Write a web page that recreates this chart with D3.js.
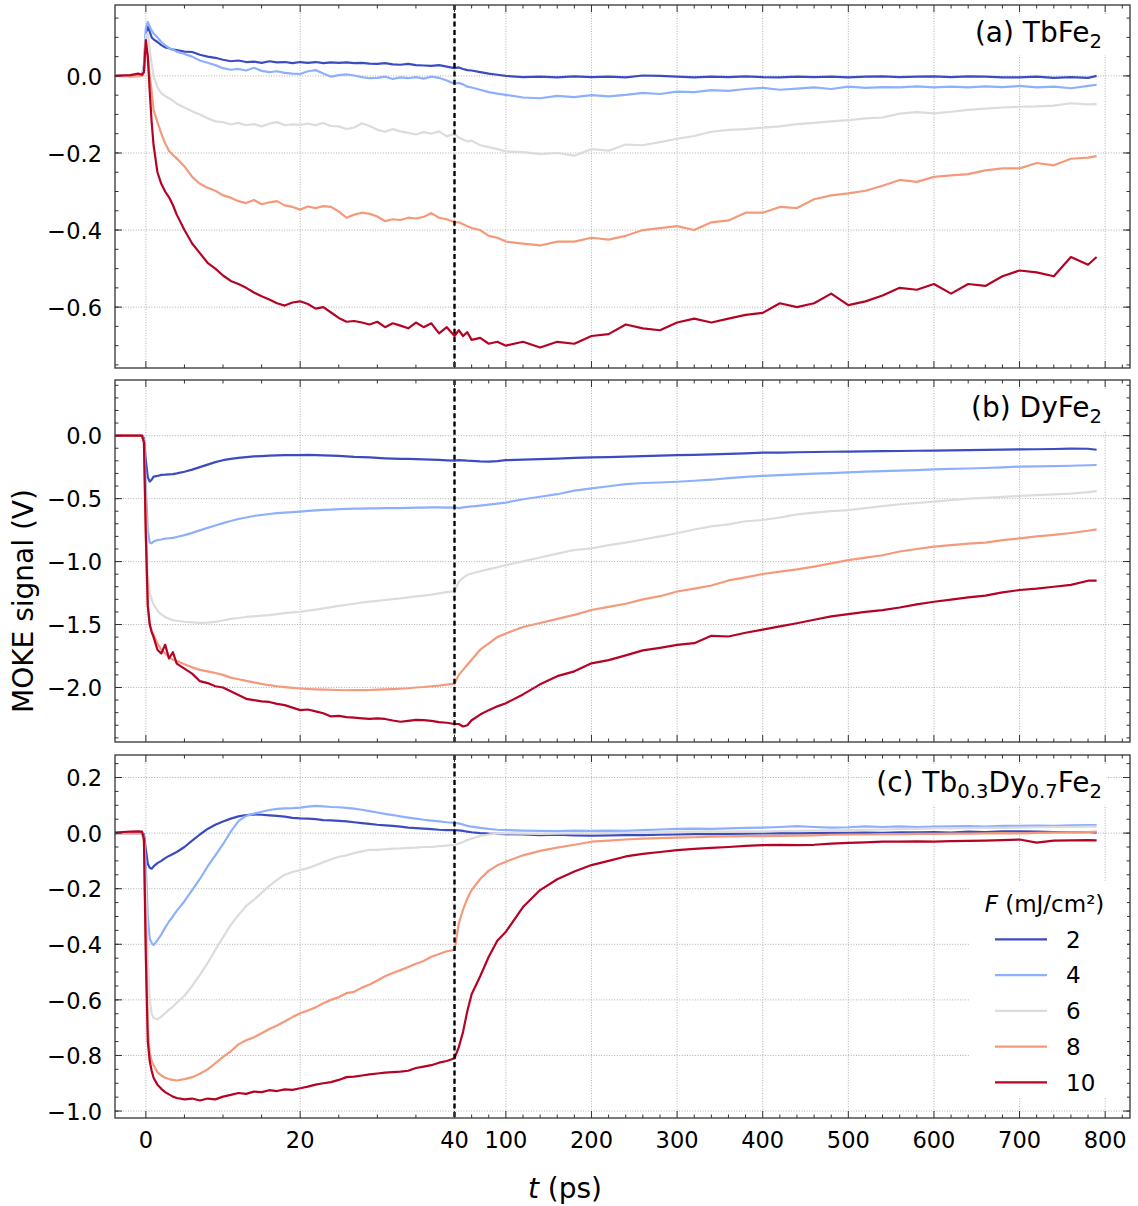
<!DOCTYPE html>
<html>
<head>
<meta charset="utf-8">
<script src="https://cdn.jsdelivr.net/npm/d3@7"></script>
<style>
  body { margin: 0; background: #fff; }
  text { font-family: "DejaVu Sans", sans-serif; fill: #000; }
</style>
</head>
<body>
<div id="chart"></div>
<script>
// time grid (ps), shared by all traces
var times = [
  -4, -3, -2, -1, -0.5, -0.25,
  0, 0.25, 0.5, 0.75, 1, 1.5, 2, 2.5, 3, 3.5,
  4, 5, 6, 7, 8, 9, 10, 11, 12, 13,
  14, 15, 16, 17, 18, 19, 20, 21, 22, 23,
  24, 25, 26, 27, 28, 29, 30, 31, 32, 33,
  34, 35, 36, 37, 38, 39, 40,
  45, 50, 55, 60, 70, 80, 90, 100,
  120, 140, 160, 180, 200, 220, 240, 260, 280, 300,
  320, 340, 360, 380, 400, 420, 440, 460, 480, 500,
  520, 540, 560, 580, 600, 620, 640, 660, 680, 700,
  720, 740, 760, 780, 790
];

var fluences = [2, 4, 6, 8, 10];
var colors = ["#3b4cc0", "#8db0fe", "#dddcdc", "#f49a7b", "#b40426"];

// (a) TbFe2
var tbFe2 = [
  [0, 0.001, -0.001, 0, 0.001, 0.02,
   0.11, 0.128, 0.115, 0.1, 0.095, 0.088, 0.08, 0.074, 0.072, 0.068,
   0.067, 0.063, 0.062, 0.055, 0.05, 0.047, 0.042, 0.038, 0.04, 0.036,
   0.037, 0.034, 0.038, 0.035, 0.036, 0.033, 0.036, 0.034, 0.036, 0.033,
   0.035, 0.034, 0.035, 0.033, 0.034, 0.032, 0.031, 0.033, 0.03, 0.029,
   0.031, 0.028, 0.027, 0.026, 0.028, 0.024, 0.02,
   0.022, 0.018, 0.015, 0.014, 0.01, 0.006, 0.003, 0,
   -0.003, -0.002, -0.004, -0.001, -0.003, -0.002, -0.004, 0.001, 0, -0.002,
   -0.004, -0.002, -0.003, -0.001, -0.003, -0.004, -0.002, -0.003, -0.002, -0.004,
   -0.002, -0.001, -0.003, -0.002, -0.001, -0.003, -0.001, -0.002, -0.004, -0.004,
   -0.002, -0.005, -0.003, -0.005, 0],
  [0, -0.001, 0, -0.001, 0, 0.03,
   0.125, 0.14, 0.128, 0.118, 0.11, 0.1, 0.088, 0.08, 0.072, 0.068,
   0.063, 0.057, 0.05, 0.04, 0.034, 0.028, 0.02, 0.016, 0.018, 0.014,
   0.021, 0.013, 0.01, 0.012, 0.008, 0.006, 0.005, 0.012, 0.015, 0.006,
   -0.002, 0.002, 0.004, 0.001, -0.003, -0.006, -0.005, -0.002, -0.008, -0.004,
   -0.006, -0.003, -0.007, -0.002, -0.005, -0.012, -0.02,
   -0.018, -0.022, -0.028, -0.03, -0.036, -0.042, -0.046, -0.049,
   -0.056, -0.058, -0.052, -0.055, -0.05, -0.053, -0.049, -0.044, -0.047, -0.041,
   -0.042, -0.037, -0.039, -0.034, -0.031, -0.036, -0.033, -0.03, -0.034, -0.028,
   -0.031, -0.029, -0.03, -0.027, -0.03, -0.028, -0.03, -0.027, -0.029, -0.026,
   -0.03, -0.028, -0.032, -0.026, -0.023],
  [0, 0, -0.001, 0, 0, 0.02,
   0.105, 0.11, 0.07, 0.03, 0, -0.03, -0.045, -0.052, -0.058, -0.064,
   -0.072, -0.082, -0.092, -0.1, -0.11, -0.118, -0.12, -0.126, -0.122, -0.128,
   -0.125, -0.131, -0.124, -0.12, -0.128, -0.126, -0.127, -0.124, -0.128, -0.122,
   -0.13, -0.131, -0.138, -0.134, -0.123, -0.13, -0.14, -0.145, -0.138, -0.144,
   -0.148, -0.152, -0.146, -0.15, -0.144, -0.157, -0.15,
   -0.16, -0.165, -0.17, -0.168, -0.18, -0.185, -0.19, -0.196,
   -0.198, -0.203, -0.2, -0.207, -0.19, -0.194, -0.178, -0.18, -0.172, -0.163,
   -0.156, -0.145, -0.14, -0.138, -0.134, -0.131, -0.125, -0.122, -0.118, -0.115,
   -0.11, -0.108, -0.098, -0.094, -0.097, -0.093, -0.088, -0.085, -0.082, -0.08,
   -0.079, -0.077, -0.071, -0.074, -0.073],
  [0, 0.001, 0, 0.001, 0, 0.01,
   0.085, 0.05, 0, -0.04, -0.088, -0.12, -0.15, -0.175, -0.195, -0.205,
   -0.214, -0.235, -0.262, -0.28, -0.29, -0.298, -0.31, -0.316, -0.325, -0.33,
   -0.322, -0.333, -0.328, -0.325, -0.336, -0.34, -0.347, -0.339, -0.343, -0.338,
   -0.34, -0.352, -0.368, -0.36, -0.355, -0.358, -0.365, -0.377, -0.372, -0.374,
   -0.368, -0.37, -0.366, -0.356, -0.368, -0.372, -0.38,
   -0.38, -0.385, -0.39, -0.395, -0.4, -0.415, -0.42, -0.43,
   -0.435, -0.44, -0.43, -0.43, -0.42, -0.425, -0.415, -0.4, -0.395, -0.39,
   -0.4, -0.38, -0.375, -0.355, -0.355, -0.34, -0.343, -0.32, -0.31, -0.305,
   -0.298, -0.285, -0.27, -0.275, -0.262, -0.258, -0.255, -0.245, -0.24, -0.24,
   -0.226, -0.232, -0.215, -0.212, -0.208],
  [0, 0.001, 0.002, 0.006, 0.003, 0.01,
   0.093, 0.05, -0.04, -0.12, -0.18, -0.25, -0.28, -0.3, -0.315, -0.335,
   -0.36, -0.4, -0.435, -0.46, -0.485, -0.5, -0.518, -0.532, -0.54, -0.55,
   -0.562, -0.572, -0.58, -0.59, -0.596, -0.588, -0.585, -0.592, -0.604, -0.6,
   -0.614, -0.628, -0.638, -0.636, -0.64, -0.645, -0.638, -0.652, -0.642, -0.648,
   -0.655, -0.64, -0.652, -0.642, -0.668, -0.652, -0.675,
   -0.66, -0.675, -0.665, -0.685, -0.68, -0.695, -0.69, -0.7,
   -0.69, -0.705, -0.69, -0.695, -0.675, -0.67, -0.645, -0.655, -0.66, -0.64,
   -0.63, -0.64, -0.63, -0.62, -0.615, -0.59, -0.6, -0.59, -0.565, -0.595,
   -0.585, -0.57, -0.55, -0.555, -0.54, -0.565, -0.54, -0.545, -0.52, -0.505,
   -0.51, -0.52, -0.47, -0.49, -0.47]
];

// (b) DyFe2
var dyFe2 = [
  [0, 0, 0, 0, 0, -0.02,
   -0.2, -0.33, -0.365, -0.35, -0.325, -0.32, -0.312, -0.31, -0.307, -0.305,
   -0.3, -0.287, -0.27, -0.25, -0.23, -0.21, -0.195, -0.185, -0.177, -0.17,
   -0.165, -0.162, -0.158, -0.156, -0.155, -0.154, -0.154, -0.153, -0.155, -0.157,
   -0.158, -0.161, -0.164, -0.168, -0.17, -0.173, -0.177, -0.18, -0.182, -0.184,
   -0.185, -0.186, -0.188, -0.19, -0.193, -0.196, -0.198,
   -0.195, -0.197, -0.199, -0.2, -0.205, -0.207, -0.203, -0.195,
   -0.19, -0.186, -0.182, -0.177, -0.172, -0.17, -0.167, -0.163, -0.158, -0.154,
   -0.152, -0.148, -0.144, -0.14, -0.135, -0.134, -0.132, -0.13, -0.128, -0.127,
   -0.125, -0.123, -0.122, -0.12, -0.119, -0.117, -0.115, -0.113, -0.111, -0.109,
   -0.108, -0.106, -0.103, -0.104, -0.112],
  [0, 0, 0, 0, 0, -0.03,
   -0.4, -0.75, -0.85, -0.855, -0.84, -0.83, -0.825, -0.818, -0.815, -0.812,
   -0.805, -0.79, -0.772, -0.752, -0.732, -0.714, -0.695, -0.678, -0.662, -0.65,
   -0.638, -0.63, -0.622, -0.616, -0.611, -0.607, -0.603, -0.598, -0.594, -0.59,
   -0.587, -0.584, -0.582, -0.58, -0.579, -0.578, -0.577, -0.576, -0.576, -0.575,
   -0.574, -0.572, -0.571, -0.57, -0.57, -0.571, -0.57,
   -0.575, -0.57, -0.566, -0.562, -0.555, -0.548, -0.54, -0.532,
   -0.505, -0.485, -0.465, -0.437, -0.419, -0.402, -0.385, -0.376, -0.372, -0.366,
   -0.358, -0.35, -0.337, -0.328, -0.32, -0.314, -0.308, -0.302, -0.297, -0.291,
   -0.286, -0.281, -0.277, -0.273, -0.268, -0.264, -0.261, -0.257, -0.252, -0.246,
   -0.244, -0.242, -0.239, -0.235, -0.233],
  [0, 0, 0, 0, 0, -0.05,
   -0.6, -1.1, -1.25, -1.3, -1.34, -1.39, -1.42, -1.44, -1.455, -1.465,
   -1.47, -1.478, -1.483, -1.487, -1.485, -1.479, -1.468, -1.455, -1.448, -1.44,
   -1.435, -1.43, -1.425, -1.418, -1.41, -1.404, -1.399, -1.39, -1.382, -1.372,
   -1.362, -1.352, -1.343, -1.335, -1.325, -1.318, -1.312, -1.305, -1.298, -1.293,
   -1.285, -1.277, -1.27, -1.262, -1.252, -1.243, -1.235,
   -1.16, -1.13, -1.105, -1.095, -1.077, -1.06, -1.045, -1.028,
   -0.998, -0.968, -0.937, -0.908, -0.895, -0.87, -0.85, -0.825, -0.8, -0.775,
   -0.745, -0.72, -0.705, -0.68, -0.67, -0.65, -0.625, -0.612, -0.6, -0.591,
   -0.575, -0.56, -0.545, -0.535, -0.524, -0.512, -0.5, -0.494, -0.487, -0.479,
   -0.473, -0.467, -0.46, -0.448, -0.44],
  [0, 0, 0, 0, 0, -0.05,
   -0.8, -1.35, -1.5, -1.55, -1.58, -1.65, -1.7, -1.73, -1.76, -1.78,
   -1.79, -1.815, -1.84, -1.86, -1.872, -1.885, -1.9, -1.922, -1.935, -1.948,
   -1.96, -1.972, -1.982, -1.99, -1.997, -2.003, -2.008, -2.012, -2.015, -2.017,
   -2.018, -2.02, -2.022, -2.02, -2.021, -2.02, -2.017, -2.015, -2.013, -2.01,
   -2.006, -2.0, -1.996, -1.99, -1.985, -1.978, -1.97,
   -1.9, -1.86, -1.82, -1.78, -1.7, -1.65, -1.6, -1.571,
   -1.52, -1.488, -1.455, -1.423, -1.385, -1.36, -1.335, -1.3, -1.275, -1.238,
   -1.215, -1.19, -1.15, -1.125, -1.099, -1.08, -1.062, -1.04, -1.015, -0.988,
   -0.968, -0.95, -0.92, -0.9, -0.882, -0.87, -0.858, -0.85, -0.83, -0.816,
   -0.8, -0.788, -0.773, -0.755, -0.744],
  [0, 0, 0, 0, 0, -0.05,
   -0.8, -1.35, -1.5, -1.56, -1.6, -1.7, -1.73, -1.66, -1.77, -1.72,
   -1.81, -1.85, -1.89, -1.95, -1.965, -1.99, -2.0, -2.03, -2.06, -2.09,
   -2.1, -2.11, -2.115, -2.13, -2.14, -2.16, -2.18, -2.175, -2.19, -2.205,
   -2.23, -2.225, -2.235, -2.24, -2.245, -2.25, -2.245, -2.25, -2.262, -2.272,
   -2.265, -2.258, -2.26, -2.265, -2.275, -2.28, -2.29,
   -2.29, -2.31, -2.3, -2.26, -2.215, -2.18, -2.15, -2.125,
   -2.055, -1.975, -1.91, -1.872, -1.808, -1.783, -1.745, -1.705, -1.685, -1.662,
   -1.648, -1.59, -1.595, -1.565, -1.54, -1.515, -1.49, -1.462, -1.435, -1.417,
   -1.4, -1.386, -1.365, -1.34, -1.319, -1.302, -1.285, -1.27, -1.245, -1.226,
   -1.215, -1.2, -1.185, -1.152, -1.152]
];

// (c) Tb0.3Dy0.7Fe2
var tbDyFe2 = [
  [0, 0, 0.001, 0, 0, -0.005,
   -0.06, -0.11, -0.125, -0.128, -0.12, -0.108, -0.1, -0.09, -0.082, -0.075,
   -0.068, -0.05, -0.027, -0.005, 0.015, 0.03, 0.042, 0.052, 0.06, 0.065,
   0.067, 0.066, 0.064, 0.062, 0.059, 0.055, 0.053, 0.052, 0.05, 0.047,
   0.046, 0.044, 0.042, 0.039, 0.036, 0.033, 0.03, 0.028, 0.026, 0.023,
   0.02, 0.018, 0.016, 0.014, 0.012, 0.011, 0.011,
   0.01, 0.008, 0.005, 0.003, 0, -0.002, -0.003, -0.004,
   -0.005, -0.007, -0.006, -0.008, -0.009, -0.008, -0.007, -0.007, -0.006, -0.005,
   -0.004, -0.004, -0.003, -0.002, -0.001, 0, -0.001, 0, 0.001, 0.001,
   0.002, 0.001, 0.003, 0.003, 0.004, 0.002, 0.005, 0.004, 0.006, 0.006,
   0.005, 0.004, 0.003, 0.004, 0.002],
  [0, 0, 0, 0, 0, -0.01,
   -0.12, -0.3, -0.38, -0.395, -0.403, -0.385, -0.365, -0.34, -0.318, -0.3,
   -0.28, -0.245, -0.205, -0.165, -0.12, -0.08, -0.04, 0.005, 0.043, 0.062,
   0.07, 0.077, 0.083, 0.087, 0.089, 0.09, 0.092, 0.095, 0.098, 0.096,
   0.094, 0.093, 0.091, 0.088, 0.084, 0.079, 0.074, 0.069, 0.065, 0.06,
   0.056, 0.052, 0.048, 0.045, 0.042, 0.039, 0.037,
   0.035, 0.031, 0.026, 0.023, 0.019, 0.015, 0.012, 0.011,
   0.009, 0.008, 0.007, 0.009, 0.008, 0.009, 0.008, 0.011, 0.013, 0.015,
   0.016, 0.015, 0.017, 0.019, 0.02, 0.022, 0.025, 0.022, 0.02, 0.021,
   0.024, 0.022, 0.024, 0.022, 0.023, 0.024, 0.025, 0.023, 0.026, 0.026,
   0.027, 0.026, 0.028, 0.029, 0.029],
  [0, 0, 0, 0, 0, -0.02,
   -0.2, -0.45, -0.6, -0.65, -0.665, -0.67, -0.66, -0.648, -0.635, -0.625,
   -0.61, -0.585, -0.55, -0.51, -0.468, -0.42, -0.375, -0.33, -0.295, -0.262,
   -0.24, -0.215, -0.19, -0.168, -0.15, -0.14, -0.133, -0.126, -0.116, -0.105,
   -0.094, -0.085, -0.08, -0.072, -0.066, -0.06, -0.06, -0.058, -0.056, -0.055,
   -0.053, -0.052, -0.05, -0.05, -0.047, -0.045, -0.042,
   -0.038, -0.032, -0.025, -0.02, -0.01, -0.005, -0.002, -0.001,
   -0.002, -0.003, -0.002, -0.001, -0.001, 0, 0.001, 0.002, 0.004, 0.005,
   0.005, 0.006, 0.005, 0.006, 0.005, 0.007, 0.008, 0.009, 0.01, 0.011,
   0.012, 0.013, 0.014, 0.015, 0.017, 0.017, 0.018, 0.019, 0.019, 0.02,
   0.021, 0.022, 0.022, 0.023, 0.023],
  [0, 0, 0, 0, 0, -0.03,
   -0.4, -0.7, -0.79, -0.82, -0.835, -0.86, -0.872, -0.88, -0.885, -0.888,
   -0.89, -0.885, -0.878, -0.866, -0.85, -0.828, -0.805, -0.785, -0.76, -0.745,
   -0.735, -0.72, -0.705, -0.692, -0.678, -0.662, -0.648, -0.638, -0.627, -0.612,
   -0.6, -0.59, -0.576, -0.571, -0.556, -0.545, -0.53, -0.515, -0.503, -0.493,
   -0.482, -0.47, -0.46, -0.445, -0.435, -0.425, -0.42,
   -0.325, -0.275, -0.235, -0.205, -0.165, -0.135, -0.116, -0.103,
   -0.08, -0.064, -0.052, -0.042, -0.031, -0.027, -0.023, -0.02, -0.018, -0.016,
   -0.015, -0.013, -0.012, -0.011, -0.011, -0.01, -0.009, -0.008, -0.006, -0.005,
   -0.005, -0.004, -0.004, -0.003, -0.003, -0.002, -0.002, -0.001, 0, -0.001,
   0.001, 0.002, 0.003, 0.004, 0.005],
  [0.002, 0.004, 0.005, 0.006, 0.005, -0.02,
   -0.45, -0.75, -0.82, -0.855, -0.88, -0.905, -0.92, -0.932, -0.94, -0.948,
   -0.953, -0.958, -0.955, -0.962, -0.955, -0.958, -0.948, -0.942, -0.935, -0.938,
   -0.93, -0.932, -0.925, -0.928, -0.922, -0.924, -0.918, -0.912, -0.905, -0.9,
   -0.896, -0.888, -0.878, -0.876, -0.872, -0.868, -0.865, -0.862, -0.86, -0.858,
   -0.855, -0.845, -0.84, -0.835, -0.826, -0.82, -0.81,
   -0.77, -0.715, -0.64, -0.58, -0.515, -0.445, -0.387, -0.355,
   -0.266, -0.205, -0.166, -0.138, -0.115, -0.1, -0.084, -0.075, -0.068, -0.061,
   -0.057, -0.053, -0.05, -0.046, -0.043, -0.042, -0.043, -0.042, -0.038, -0.035,
   -0.033, -0.031, -0.031, -0.03, -0.031, -0.029, -0.028, -0.027, -0.025, -0.023,
   -0.034, -0.027, -0.026, -0.025, -0.026]
];

var xTicks = [0, 20, 40, 100, 200, 300, 400, 500, 600, 700, 800];
var xMinor = [5, 10, 15, 25, 30, 35, 60, 80, 120, 140, 160, 180, 220, 240, 260, 280,
  320, 340, 360, 380, 420, 440, 460, 480, 520, 540, 560, 580, 620, 640, 660, 680,
  720, 740, 760, 780, 820];
var yTicksA = [-0.6, -0.4, -0.2, 0.0];
var yTicksB = [-2.0, -1.5, -1.0, -0.5, 0.0];
var yTicksC = [-1.0, -0.8, -0.6, -0.4, -0.2, 0.0, 0.2];

var W = 1138, H = 1206;
var left = 115, right = 1130;

var svg = d3.select("#chart").append("svg")
  .attr("width", W)
  .attr("height", H)
  .style("background", "#fff");

// broken time axis: linear up to 40 ps, compressed afterwards
var x = d3.scaleLinear().domain([-4, 40, 829]).range([left, 454.5, right]);

var panels = [
  {top: 5, bottom: 368, domain: [-0.758, 0.184], major: yTicksA, minorStep: 0.05,
   data: tbFe2, title: [["(a) TbFe", 0], ["2", 1]]},
  {top: 380, bottom: 742, domain: [-2.433, 0.442], major: yTicksB, minorStep: 0.1,
   data: dyFe2, title: [["(b) DyFe", 0], ["2", 1]]},
  {top: 755, bottom: 1118, domain: [-1.025, 0.281], major: yTicksC, minorStep: 0.05,
   data: tbDyFe2, title: [["(c) Tb", 0], ["0.3", 1], ["Dy", 0], ["0.7", 1], ["Fe", 0], ["2", 1]]}
];

var fmt = d3.format(".1f");

panels.forEach(function(p, k) {
  var y = d3.scaleLinear().domain(p.domain).range([p.bottom, p.top]);
  var g = svg.append("g");

  g.append("clipPath").attr("id", "clip" + k)
    .append("rect")
    .attr("x", left).attr("y", p.top)
    .attr("width", right - left).attr("height", p.bottom - p.top);

  // grid
  g.selectAll(".gx").data(xTicks).enter().append("line")
    .attr("x1", function(d) { return x(d); })
    .attr("x2", function(d) { return x(d); })
    .attr("y1", p.top).attr("y2", p.bottom)
    .style("stroke", "#a8a8a8").style("stroke-width", 0.9)
    .style("stroke-dasharray", "1,1.6");
  g.selectAll(".gy").data(p.major).enter().append("line")
    .attr("x1", left).attr("x2", right)
    .attr("y1", function(d) { return y(d); })
    .attr("y2", function(d) { return y(d); })
    .style("stroke", "#a8a8a8").style("stroke-width", 0.9)
    .style("stroke-dasharray", "1,1.6");

  // title with white box
  var title = g.append("text")
    .attr("x", 1102).attr("y", p.top + 37)
    .style("text-anchor", "end")
    .style("font-size", "28px");
  p.title.forEach(function(part, i) {
    var prevSub = i > 0 && p.title[i - 1][1];
    var ts = title.append("tspan").text(part[0]);
    if (part[1]) ts.attr("dy", prevSub ? 0 : 6).style("font-size", "19.6px");
    else if (prevSub) ts.attr("dy", -6);
  });
  var bb = title.node().getBBox();
  g.insert("rect", function() { return title.node(); })
    .attr("x", bb.x - 4).attr("y", bb.y - 2)
    .attr("width", bb.width + 8).attr("height", bb.height + 4)
    .style("fill", "#fff");

  // traces
  var line = d3.line()
    .x(function(d) { return x(d[0]); })
    .y(function(d) { return y(d[1]); });
  var curves = g.append("g").attr("clip-path", "url(#clip" + k + ")");
  p.data.forEach(function(vals, i) {
    curves.append("path")
      .datum(times.map(function(t, j) { return [t, vals[j]]; }))
      .attr("d", line)
      .style("fill", "none")
      .style("stroke", colors[i])
      .style("stroke-width", 2.2)
      .style("stroke-linejoin", "round");
  });

  // 40 ps break marker
  g.append("line")
    .attr("x1", x(40)).attr("x2", x(40))
    .attr("y1", p.top).attr("y2", p.bottom)
    .style("stroke", "#000").style("stroke-width", 2.4)
    .style("stroke-dasharray", "5,3.3");

  // ticks (inward, all sides)
  var yMinor = d3.range(Math.ceil(p.domain[0] / p.minorStep), Math.floor(p.domain[1] / p.minorStep) + 1)
    .map(function(n) { return n * p.minorStep; });
  function xt(vals, len) {
    vals.forEach(function(v) {
      [[p.bottom, -len], [p.top, len]].forEach(function(s) {
        g.append("line").attr("x1", x(v)).attr("x2", x(v))
          .attr("y1", s[0]).attr("y2", s[0] + s[1])
          .style("stroke", "#333").style("stroke-width", 1);
      });
    });
  }
  function yt(vals, len) {
    vals.forEach(function(v) {
      [[left, len], [right, -len]].forEach(function(s) {
        g.append("line").attr("y1", y(v)).attr("y2", y(v))
          .attr("x1", s[0]).attr("x2", s[0] + s[1])
          .style("stroke", "#333").style("stroke-width", 1);
      });
    });
  }
  xt(xTicks, 7); xt(xMinor, 3.5);
  yt(p.major, 7); yt(yMinor, 3.5);

  g.append("rect")
    .attr("x", left).attr("y", p.top)
    .attr("width", right - left).attr("height", p.bottom - p.top)
    .style("fill", "none").style("stroke", "#333").style("stroke-width", 1.3);

  g.selectAll(".yl").data(p.major).enter().append("text")
    .attr("x", 102).attr("y", function(d) { return y(d) + 8.8; })
    .style("text-anchor", "end").style("font-size", "22.5px")
    .text(function(d) { return fmt(d); });

  if (k === 2) {
    g.selectAll(".xl").data(xTicks).enter().append("text")
      .attr("x", function(d) { return x(d); }).attr("y", 1148)
      .style("text-anchor", "middle").style("font-size", "22.5px")
      .text(function(d) { return d; });

    // legend
    var lg = g.append("g");
    lg.append("rect").attr("x", 970).attr("y", 882).attr("width", 157).attr("height", 216)
      .style("fill", "#fff");
    var lt = lg.append("text").attr("x", 1044.5).attr("y", 912)
      .style("text-anchor", "middle").style("font-size", "23px");
    lt.append("tspan").style("font-style", "italic").text("F");
    lt.append("tspan").text(" (mJ/cm²)");
    fluences.forEach(function(f, i) {
      var ry = 939.3 + i * 35.75;
      lg.append("line").attr("x1", 995).attr("x2", 1047).attr("y1", ry).attr("y2", ry)
        .style("stroke", colors[i]).style("stroke-width", 2.2);
      lg.append("text").attr("x", 1066).attr("y", ry + 8.3)
        .style("font-size", "23px").text(f);
    });
  }
});

// axis labels
svg.append("text")
  .attr("transform", "translate(33,601) rotate(-90)")
  .style("text-anchor", "middle").style("font-size", "28px")
  .text("MOKE signal (V)");

var xl = svg.append("text").attr("x", 565).attr("y", 1198)
  .style("text-anchor", "middle").style("font-size", "28px");
xl.append("tspan").style("font-style", "italic").text("t");
xl.append("tspan").text(" (ps)");
</script>
</body>
</html>
